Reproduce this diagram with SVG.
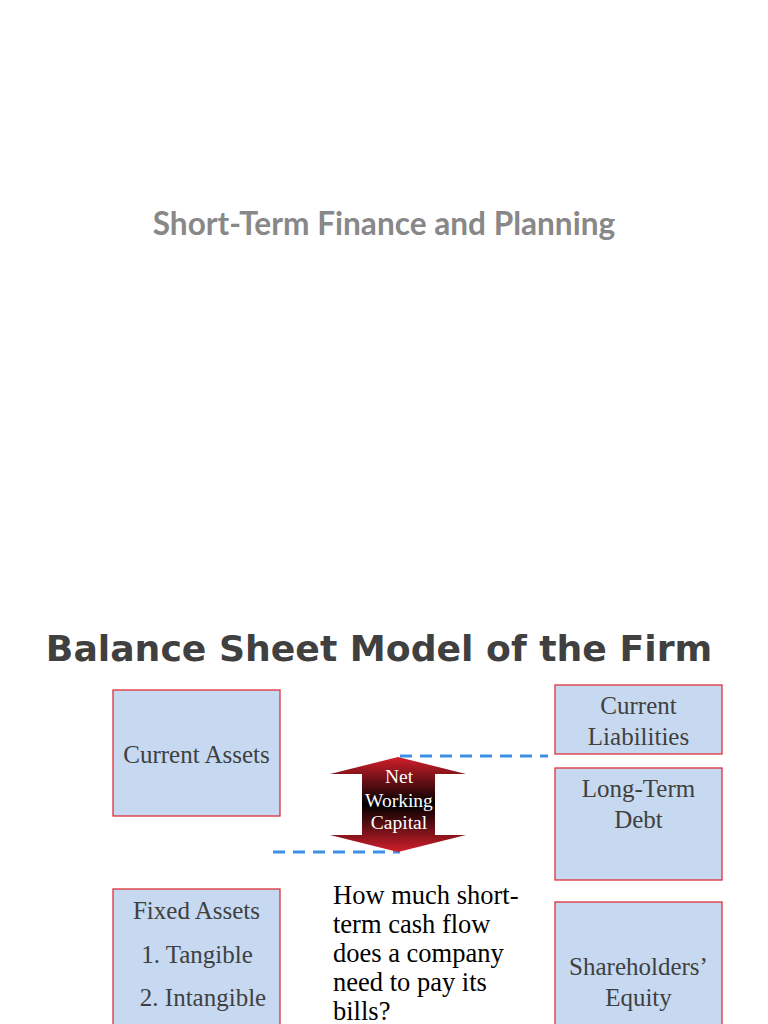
<svg xmlns="http://www.w3.org/2000/svg" width="768" height="1024" viewBox="0 0 768 1024">
<defs>
<linearGradient id="g" x1="0" y1="0" x2="0" y2="1">
<stop offset="0" stop-color="#d21f2b"/>
<stop offset="0.5" stop-color="#000000"/>
<stop offset="1" stop-color="#d21f2b"/>
</linearGradient>
<style>
.box{fill:#c6d9f1;stroke:#e0303a;stroke-width:1.3}
.bt{font-family:"Liberation Serif",serif;font-size:25px;fill:#404040;text-anchor:middle}
.dash{stroke:#3d8fe8;stroke-width:3;stroke-dasharray:12 8;fill:none}
</style>
</defs>
<rect width="768" height="1024" fill="#ffffff"/>
<text x="384" y="235" font-family="Lato,sans-serif" font-weight="bold" font-size="31.6" fill="#888888" text-anchor="middle">Short-Term Finance and Planning</text>
<text x="379" y="661" font-family="DejaVu Sans,sans-serif" font-weight="bold" font-size="36.2" fill="#404040" text-anchor="middle">Balance Sheet Model of the Firm</text>
<g id="connectors">
<line class="dash" x1="400" y1="756" x2="548" y2="756"/>
<line class="dash" x1="273" y1="852" x2="400" y2="852"/>
</g>
<g id="nwc">
<path d="M398,757 L466,774 L435,774 L435,835 L466,835 L398,852 L330,835 L362,835 L362,774 L330,774 Z" fill="url(#g)"/>
<text font-family="Liberation Serif,serif" font-size="19.5" fill="#ffffff" text-anchor="middle"><tspan x="399" y="783">Net</tspan><tspan x="399" y="807">Working</tspan><tspan x="399" y="829">Capital</tspan></text>
</g>
<g id="current-assets">
<rect class="box" x="113" y="690" width="167" height="126"/>
<text class="bt" x="196.5" y="763">Current Assets</text>
</g>
<g id="current-liabilities">
<rect class="box" x="555" y="685" width="167" height="69"/>
<text class="bt"><tspan x="638.5" y="714">Current</tspan><tspan x="638.5" y="745">Liabilities</tspan></text>
</g>
<g id="long-term-debt">
<rect class="box" x="555" y="768" width="167" height="112"/>
<text class="bt"><tspan x="638.5" y="797">Long-Term</tspan><tspan x="638.5" y="828">Debt</tspan></text>
</g>
<g id="fixed-assets">
<rect class="box" x="113" y="889" width="167" height="140"/>
<text class="bt"><tspan x="196.5" y="919">Fixed Assets</tspan><tspan x="197" y="963">1. Tangible</tspan><tspan x="203" y="1006">2. Intangible</tspan></text>
</g>
<g id="equity">
<rect class="box" x="555" y="902" width="167" height="127"/>
<text class="bt"><tspan x="638.5" y="975">Shareholders’</tspan><tspan x="638.5" y="1006">Equity</tspan></text>
</g>
<g id="question">
<text font-family="Liberation Serif,serif" font-size="26.5" fill="#000000"><tspan x="333" y="904">How much short-</tspan><tspan x="333" y="933">term cash flow</tspan><tspan x="333" y="962">does a company</tspan><tspan x="333" y="991">need to pay its</tspan><tspan x="333" y="1020">bills?</tspan></text>
</g>
</svg>
